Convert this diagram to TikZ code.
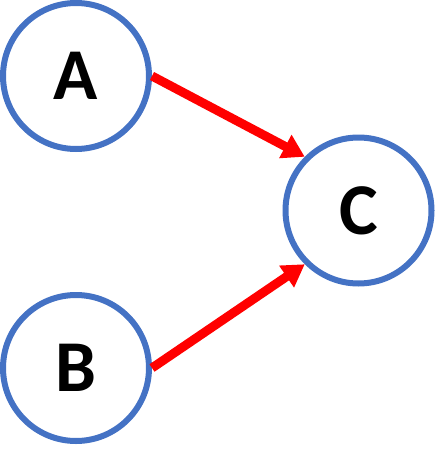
\documentclass[tikz,border=0pt]{standalone}
\usepackage{fontspec}
\setmainfont{Carlito}
\usetikzlibrary{arrows.meta}
\definecolor{cblue}{RGB}{68,114,196}
\begin{document}
\begin{tikzpicture}[x=1pt,y=-1pt,
  vertex/.style={circle,draw=cblue,line width=6pt,minimum size=146pt,inner sep=0pt,
    font=\fontsize{73}{73}\selectfont\bfseries},
  edge/.style={draw=red,line width=9pt,-{Triangle[length=22pt,width=25pt]}}]
\useasboundingbox (0,0) rectangle (435,460);
\node[vertex] (A) at (76,76) {A};
\node[vertex] (B) at (76,368) {B};
\node[vertex] (C) at (358.5,210.5) {C};
\draw[edge] (A.east) -- (C.135);
\draw[edge] (B.east) -- (C.225);
\end{tikzpicture}
\end{document}
